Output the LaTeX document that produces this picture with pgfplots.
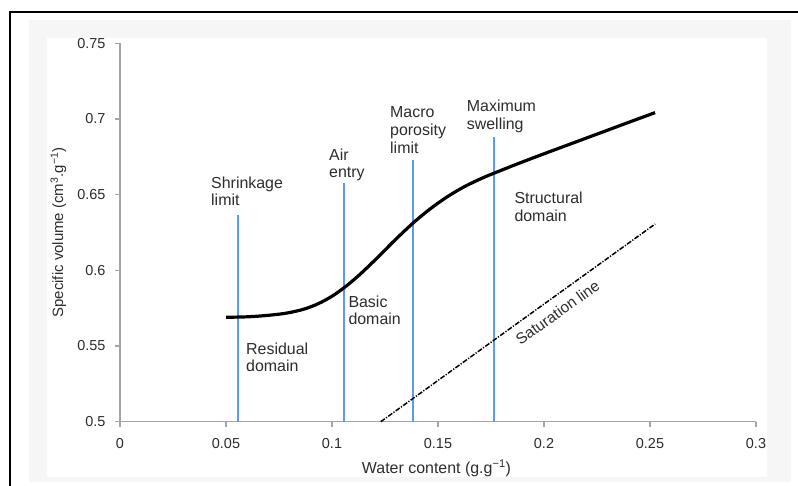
\documentclass[border=0pt]{standalone}
\usepackage{fontspec}
\setmainfont{Liberation Sans}
\usepackage{pgfplots}
\pgfplotsset{compat=1.18}
\definecolor{vblue}{RGB}{92,155,242}
\definecolor{axgray}{RGB}{165,165,165}
\definecolor{txt}{RGB}{45,45,45}
\definecolor{panel}{RGB}{246,246,246}
\begin{document}
\begin{tikzpicture}
\useasboundingbox (0bp,0bp) rectangle (798bp,486bp);
\fill[panel] (29bp,4bp) rectangle (791bp,466bp);
\fill[white] (47bp,9bp) rectangle (767bp,448bp);
\draw[line width=2.3bp] (10bp,-2bp) -- (10bp,473.8bp) -- (800bp,473.8bp);
\begin{axis}[
  at={(120bp,64.3bp)}, anchor=south west,
  scale only axis, width=636bp, height=378.4bp,
  xmin=0, xmax=0.3, ymin=0.5, ymax=0.75,
  axis x line*=bottom, axis y line*=left,
  axis line style={axgray, line width=1.3bp},
  xtick={0,0.05,0.1,0.15,0.2,0.25,0.3},
  xticklabels={0,0.05,0.1,0.15,0.2,0.25,0.3},
  ytick={0.5,0.55,0.6,0.65,0.7,0.75},
  yticklabels={0.5,0.55,0.6,0.65,0.7,0.75},
  tick align=outside, major tick length=5bp,
  tick style={axgray, line width=1.1bp},
  ticklabel style={font=\fontsize{14.5}{16}\selectfont, text=txt},
  xticklabel style={yshift=-8.5bp},
  yticklabel style={xshift=-6bp},
  clip=false,
]
\addplot[vblue, line width=2bp] coordinates {(0.0557,0.5) (0.0557,0.6366)};
\addplot[vblue, line width=2bp] coordinates {(0.1057,0.5) (0.1057,0.658)};
\addplot[vblue, line width=2bp] coordinates {(0.1384,0.5) (0.1384,0.673)};
\addplot[vblue, line width=2bp] coordinates {(0.1766,0.5) (0.1766,0.688)};
\addplot[black, line width=1.5bp, dash pattern=on 5bp off 1.5bp on 1.2bp off 1.5bp] coordinates {(0.123,0.5) (0.2524,0.6306)};
\addplot[black, line width=3.2bp, smooth, tension=0.6] table {
x y
0.0500 0.5690
0.0600 0.5693
0.0700 0.5703
0.0800 0.5721
0.0900 0.5759
0.1000 0.5829
0.1100 0.5934
0.1200 0.6064
0.1300 0.6204
0.1400 0.6334
0.1500 0.6444
0.1600 0.6534
0.1700 0.6604
0.1800 0.6662
0.1900 0.6717
0.2000 0.6770
0.2100 0.6822
0.2200 0.6874
0.2300 0.6926
0.2400 0.6978
0.2524 0.7042
};
\end{axis}
\begin{scope}[every node/.style={inner sep=0pt, anchor=base west, text=txt, font=\fontsize{16}{18}\selectfont}]
\node at (211bp,297bp) {Shrinkage};
\node at (211bp,280bp) {limit};
\node at (329bp,325bp) {Air};
\node at (329bp,308bp) {entry};
\node at (390bp,368bp) {Macro};
\node at (390bp,350bp) {porosity};
\node at (390bp,332bp) {limit};
\node at (466.7bp,374.3bp) {Maximum};
\node at (466.7bp,356.7bp) {swelling};
\node at (514.3bp,282bp) {Structural};
\node at (514.3bp,264.3bp) {domain};
\node at (246bp,131.7bp) {Residual};
\node at (246bp,114.3bp) {domain};
\node at (348.3bp,178.7bp) {Basic};
\node at (348.3bp,161bp) {domain};
\node[anchor=center, rotate=35.6, font=\fontsize{15.5}{18}\selectfont] at (557.5bp,173.5bp) {Saturation line};
\node[anchor=base] at (436.5bp,12.7bp) {Water content (g.g\textsuperscript{−1})};
\node[anchor=base, rotate=90, font=\fontsize{15}{18}\selectfont] at (63bp,253.5bp) {Specific volume (cm\textsuperscript{3}.g\textsuperscript{−1})};
\end{scope}
\end{tikzpicture}
\end{document}
